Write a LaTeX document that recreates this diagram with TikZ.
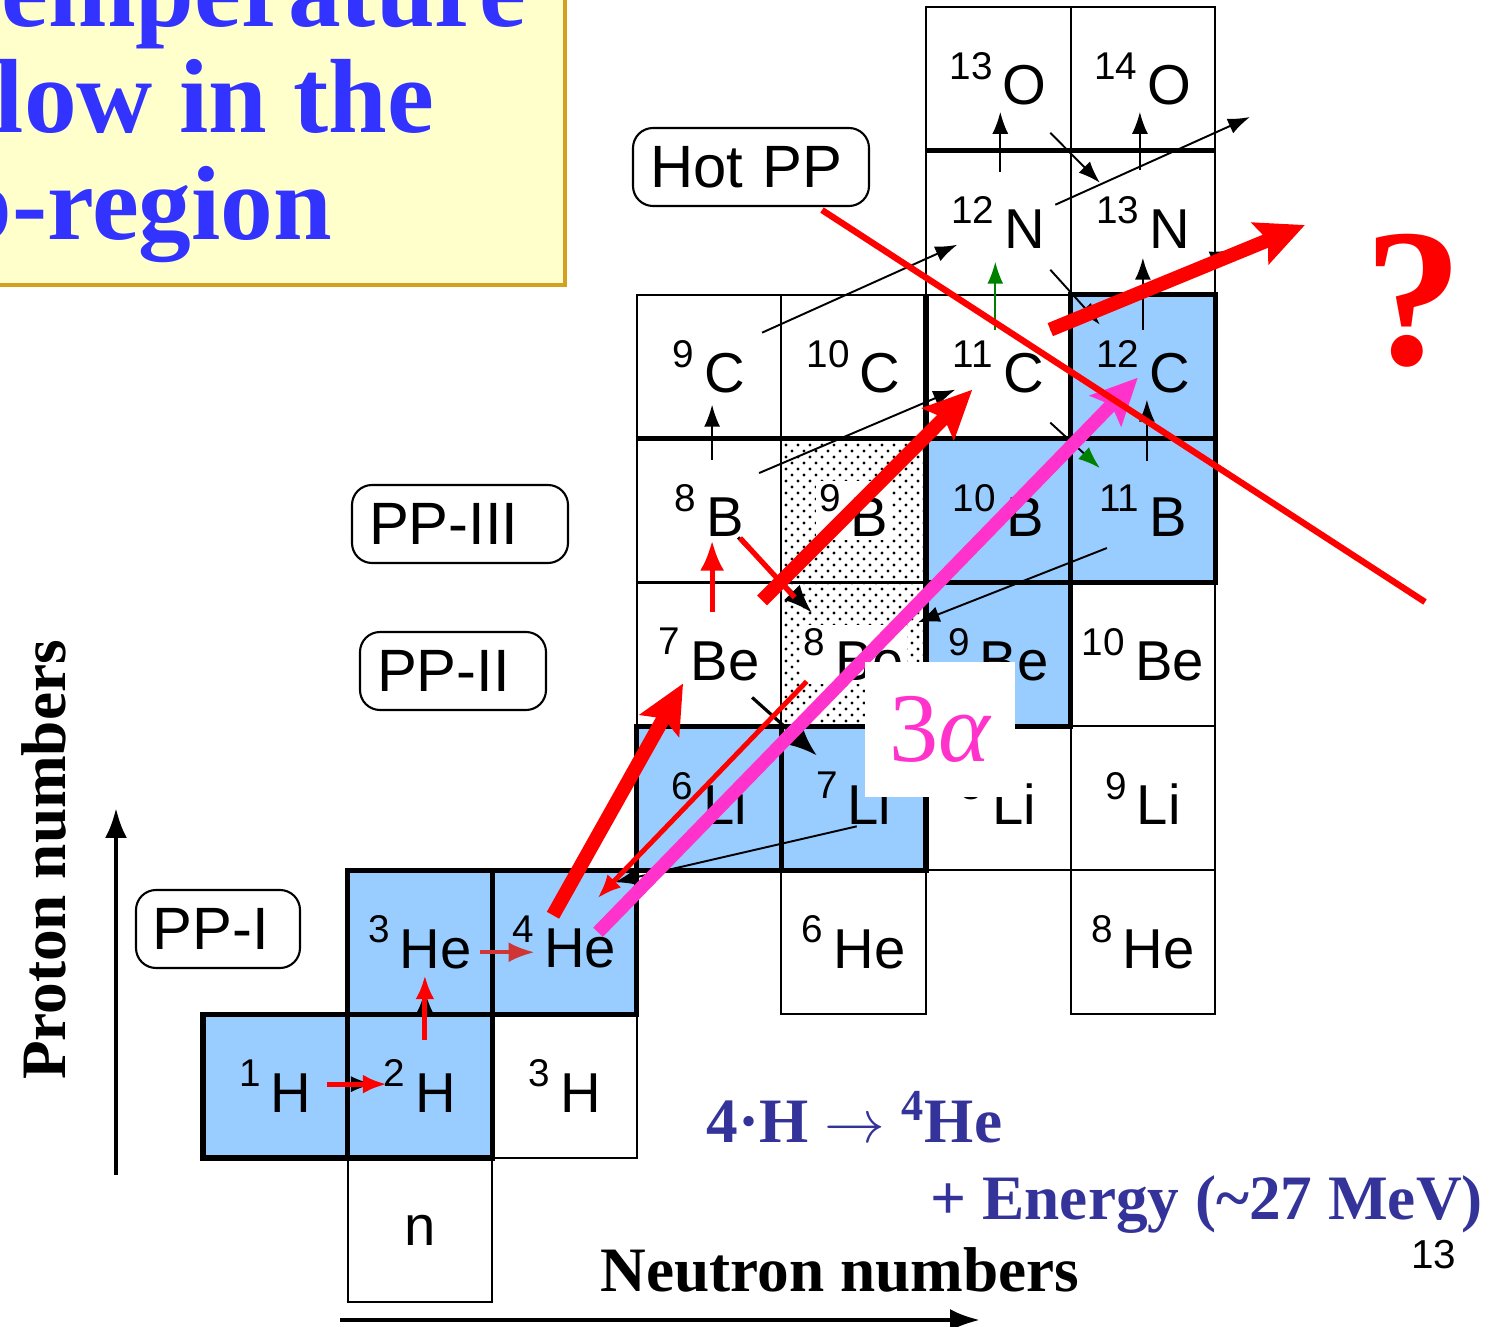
\documentclass[tikz,border=0pt]{standalone}
\usepackage{fontspec}
\setmainfont{Liberation Serif}
\setsansfont{Liberation Sans}
\usetikzlibrary{arrows.meta,patterns.meta}

\definecolor{nucblue}{HTML}{99CCFF}
\definecolor{titlebg}{HTML}{FFFFCC}
\definecolor{titleedge}{HTML}{D4A020}
\definecolor{titleblue}{HTML}{3333FF}
\definecolor{eqblue}{HTML}{333399}
\definecolor{alphapink}{HTML}{FF33CC}
\definecolor{flowgreen}{HTML}{008000}
\definecolor{softred}{HTML}{D03535}

% nuclide label: mass number raised, then symbol
\newcommand{\nuc}[2]{\raisebox{0.45em}{\fontsize{11}{11}\selectfont #1}\hspace{0.18em}#2}

\tikzset{
  cell/.style={draw, line width=0.6pt, minimum width=1.446cm, minimum height=1.439cm,
    inner sep=0pt, font=\sffamily\fontsize{16}{16}\selectfont},
  stable/.style={cell, fill=nucblue, line width=1.5pt},
  unbound/.style={cell, pattern={Dots[distance=1.2mm,radius=0.16mm]},
    postaction={pattern={Dots[distance=1.2mm,radius=0.16mm,xshift=0.6mm,yshift=0.6mm]}}},
  heavy/.style={line width=1.5pt},
  flow/.style={line width=0.55pt, -{Latex[length=2.2mm,width=1.6mm]}},
  ppflow/.style={red, line width=1.4pt, -{Latex[length=2.4mm,width=1.9mm]}},
  ppline/.style={red, line width=1.5pt},
  hotflow/.style={red, line width=4pt, -{Stealth[length=4.8mm,width=4.4mm,inset=0.8mm]}},
  alphaflow/.style={alphapink, line width=3.8pt, -{Stealth[length=4.6mm,width=4.3mm,inset=0.8mm]}},
  hotline/.style={red, line width=1.8pt},
  ppbox/.style={draw, rounded corners=2mm, line width=0.6pt, font=\sffamily\fontsize{17}{17}\selectfont,
    minimum height=0.78cm, inner xsep=0.17cm, align=left},
  titletext/.style={text=titleblue, font=\bfseries\fontsize{30}{32}\selectfont, inner sep=0pt, anchor=base east},
  axislabel/.style={font=\bfseries\fontsize{18}{18}\selectfont},
  eqtext/.style={text=eqblue, font=\bfseries\fontsize{18}{18}\selectfont, inner sep=0pt, anchor=base west},
  axis/.style={line width=1.2pt, -{Latex[length=3mm,width=2.2mm]}}
}

\begin{document}
\begin{tikzpicture}

\useasboundingbox (0,0) rectangle (15,13.27);
\clip (0,0) rectangle (15,13.27);

% Title box
\fill[titlebg, draw=titleedge, line width=1pt] (-0.2,10.42) rectangle (5.65,13.5);
\node[titletext] (title1) at (5.27,13.00) {Temperature};
\node[titletext] (title2) at (4.35,11.94) {flow in the};
\node[titletext] (title3) at (3.33,10.87) {p-region};

% Chart of nuclides
\begin{scope}[shift={(2.03,0.25)}, x=1.446cm, y=1.439cm]
\node[cell] (n) at (1.5,0.5) {n};
\node[cell] (H3) at (2.5,1.5) {\nuc{3}{H}};
\node[cell] (He6) at (4.5,2.5) {\nuc{6}{He}};
\node[cell] (He8) at (6.5,2.5) {\nuc{8}{He}};
\node[cell] (Li8) at (5.5,3.5) {\nuc{8}{Li}};
\node[cell] (Li9) at (6.5,3.5) {\nuc{9}{Li}};
\node[cell] (Be7) at (3.5,4.5) {\nuc{7}{Be}};
\node[cell] (Be10) at (6.5,4.5) {\nuc{10}{Be}};
\node[cell] (B8) at (3.5,5.5) {\nuc{8}{B}};
\node[cell] (C9) at (3.5,6.5) {\nuc{9}{C}};
\node[cell] (C10) at (4.5,6.5) {\nuc{10}{C}};
\node[cell] (C11) at (5.5,6.5) {\nuc{11}{C}};
\node[cell] (N12) at (5.5,7.5) {\nuc{12}{N}};
\node[cell] (N13) at (6.5,7.5) {\nuc{13}{N}};
\node[cell] (O13) at (5.5,8.5) {\nuc{13}{O}};
\node[cell] (O14) at (6.5,8.5) {\nuc{14}{O}};

% unbound
\node[unbound] (Be8) at (4.5,4.5) {\setlength{\fboxsep}{1pt}\colorbox{white}{\nuc{8}{Be}}};
\node[unbound] (B9) at (4.5,5.5) {\setlength{\fboxsep}{1pt}\colorbox{white}{\nuc{9}{B}}};

% stable
\node[stable] (H1) at (0.5,1.5) {\nuc{1}{H}};
\node[stable] (H2) at (1.5,1.5) {\nuc{2}{H}};
\node[stable] (He3) at (1.5,2.5) {\nuc{3}{He}};
\node[stable] (He4) at (2.5,2.5) {\nuc{4}{He}};
\node[stable] (Li6) at (3.5,3.5) {\nuc{6}{Li}};
\node[stable] (Li7) at (4.5,3.5) {\nuc{7}{Li}};
\node[stable] (Be9) at (5.5,4.5) {\nuc{9}{Be}};
\node[stable] (B10) at (5.5,5.5) {\nuc{10}{B}};
\node[stable] (B11) at (6.5,5.5) {\nuc{11}{B}};
\node[stable] (C12) at (6.5,6.5) {\nuc{12}{C}};

% heavier borders
\draw[heavy] (3,6) -- (5,6);
\draw[heavy] (5,6) -- (5,7);
\draw[heavy] (5,8) -- (7,8);
\end{scope}

% Chain labels
\node[ppbox, text width=2.02cm] (hotpp) at (7.51,11.60) {Hot PP};
\node[ppbox, text width=1.82cm] (pp3) at (4.60,8.03) {PP-III};
\node[ppbox, text width=1.52cm] (pp2) at (4.53,6.56) {PP-II};
\node[ppbox, text width=1.30cm] (pp1) at (2.18,3.98) {PP-I};

% Axes
\coordinate (ybot) at (1.16,1.52);
\coordinate (ytop) at (1.16,5.19);
\coordinate (xleft) at (3.40,0.07);
\coordinate (xright) at (9.80,0.07);
\draw[axis] (ybot) -- (ytop);
\draw[axis] (xleft) -- (xright);
\node[axislabel, rotate=90] (ylab) at (0.44,4.67) {Proton numbers};
\node[axislabel, anchor=base] (xlab) at (8.40,0.35) {Neutron numbers};

% PP-I
\draw[flow] ([shift={(0.52,0.02)}]H1.center) -- ([shift={(-0.47,0.02)}]H2.center);
\draw[ppflow] ([shift={(0.52,0.02)}]H1.center) -- ([shift={(-0.33,0.02)}]H2.center);
\draw[flow] ([shift={(0.05,0.46)}]H2.center) -- ([shift={(0.05,-0.48)}]He3.center);
\draw[ppflow] ([shift={(0.05,0.46)}]H2.center) -- ([shift={(0.05,-0.33)}]He3.center);
\draw[ppflow, draw=softred, line width=1pt, -{Latex[length=2.6mm,width=2mm]}] ([shift={(0.60,-0.10)}]He3.center) -- ([shift={(-0.30,-0.10)}]He4.center);

% PP-II and PP-III
\draw[flow, line width=0.9pt, -{Latex[length=2.8mm,width=2.2mm]}] ([shift={(0.43,-0.43)}]Be7.center) -- ([shift={(-0.37,0.43)}]Li7.center);
\draw[flow] ([shift={(0.03,-0.28)}]Li7.center) -- ([shift={(0.50,0.60)}]He4.center);
\draw[ppflow, -{Latex[length=3mm,width=2.4mm]}] ([shift={(0.03,0.42)}]Be7.center) -- ([shift={(0.03,-0.30)}]B8.center);
\draw[flow, line width=0.9pt, -{Latex[length=2.8mm,width=2.2mm]}] ([shift={(0.29,-0.27)}]B8.center) -- ([shift={(-0.42,0.42)}]Be8.center);
\draw[ppline] ([shift={(0.31,-0.275)}]B8.center) -- ([shift={(-0.59,0.57)}]Be8.center);
\draw[ppflow] ([shift={(-0.47,-0.27)}]Be8.center) -- ([shift={(0.33,0.44)}]He4.center);

% Other reactions
\coordinate (outN) at (12.50,12.10);
\coordinate (outC) at (12.32,10.77);
\draw[flow] ([shift={(0.03,0.505)}]B8.center) -- ([shift={(0.03,-0.38)}]C9.center);
\draw[flow] ([shift={(0.50,0.375)}]B8.center) -- ([shift={(-0.43,-0.23)}]C11.center);
\draw[flow] ([shift={(0.53,0.34)}]C9.center) -- ([shift={(-0.41,-0.22)}]N12.center);
\draw[flow] ([shift={(-0.36,-0.375)}]B11.center) -- ([shift={(0.64,0.32)}]Be8.center);
\draw[flow] ([shift={(0.04,0.50)}]B11.center) -- ([shift={(0.04,-0.33)}]C12.center);
\draw[flow, -{Latex[length=2.2mm,width=1.6mm,color=flowgreen]}] ([shift={(0.52,-0.56)}]C11.center) -- ([shift={(-0.43,0.425)}]B11.center);
\draw[flow, flowgreen] ([shift={(-0.03,0.37)}]C11.center) -- ([shift={(-0.03,-0.39)}]N12.center);
\draw[flow] ([shift={(0,0.37)}]C12.center) -- ([shift={(0,-0.35)}]N13.center);
\draw[flow] ([shift={(0.52,-0.47)}]N12.center) -- ([shift={(-0.43,0.42)}]C12.center);
\draw[flow] ([shift={(0.02,0.51)}]N12.center) -- ([shift={(0.02,-0.33)}]O13.center);
\draw[flow] ([shift={(-0.03,0.53)}]N13.center) -- ([shift={(-0.03,-0.33)}]O14.center);
\draw[flow] ([shift={(0.52,-0.54)}]O13.center) -- ([shift={(-0.43,0.40)}]N13.center);
\draw[flow] ([shift={(0.57,0.18)}]N12.center) -- (outN);
\draw[flow] ([shift={(0.52,0.37)}]C11.center) -- (outC);

% Hot PP flow
\coordinate (beyond) at (13.05,11.02);
\draw[hotflow] ([shift={(-0.115,0.27)}]He4.center) -- ([shift={(-0.26,-0.29)}]Be7.center);
\draw[hotflow] ([shift={(0.53,0.54)}]Be7.center) -- ([shift={(-0.26,-0.23)}]C11.center);
\draw[hotflow] ([shift={(0.52,0.37)}]C11.center) -- (beyond);

% Triple alpha
\draw[alphaflow] ([shift={(0.335,0.10)}]He4.center) -- ([shift={(-0.05,-0.11)}]C12.center);

% Hot PP border
\coordinate (hotend) at (14.25,7.25);
\draw[hotline] ([shift={(0.71,-0.03)}]hotpp.south) -- (hotend);

\node[fill=white, minimum width=1.5cm, minimum height=1.35cm, text=alphapink,
  font=\fontsize{28}{28}\selectfont] (alpha3) at (9.40,5.975) {3{\itshape α}};
\node[text=red, font=\bfseries\fontsize{56}{56}\selectfont, anchor=base] (qmark) at (14.14,9.62) {?};

% Energy release
\node[eqtext] (eq1) at (7.06,1.84) {4·H $\rightarrow$ \textsuperscript{4}He};
\node[eqtext] (eq2) at (9.30,1.07) {+ Energy (\textasciitilde27 MeV)};
\node[font=\sffamily\fontsize{11.5}{11.5}\selectfont] (pagenum) at (14.34,0.72) {13};

\end{tikzpicture}
\end{document}
